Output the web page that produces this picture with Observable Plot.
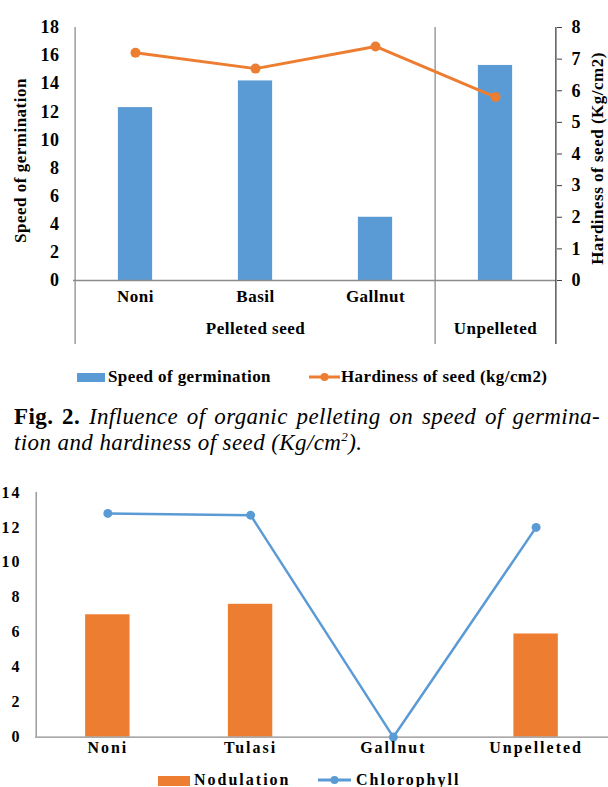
<!DOCTYPE html>
<html>
<head>
<meta charset="utf-8">
<script src="https://cdn.jsdelivr.net/npm/d3@7"></script>
<script src="https://cdn.jsdelivr.net/npm/@observablehq/plot@0.6"></script>
<style>
  html, body { margin: 0; padding: 0; background: #fff; }
  #page { position: relative; width: 608px; height: 787px; overflow: hidden; background: #fff; font-family: "Liberation Serif", "Times New Roman", serif; color: #000; }
  #top, #bottom { position: absolute; left: 0; }
  #top { top: 0; }
  #bottom { top: 480px; }
  .lg { position: absolute; font-weight: bold; line-height: 18px; white-space: nowrap; }
  .lg1 { font-size: 17px; letter-spacing: 0.4px; }
  .lg2 { font-size: 16px; letter-spacing: 2px; }
  .sw { position: absolute; }
  #caption { position: absolute; left: 14px; top: 404px; width: 586px; font-size: 23px; line-height: 26px; letter-spacing: 0.4px; }
  #caption .l1 { text-align: justify; text-align-last: justify; white-space: nowrap; }
  #caption i { font-style: italic; }
  #caption sup { font-size: 13px; line-height: 0; }
</style>
</head>
<body>
<div id="page">
  <div id="top"></div>
  <div class="sw" style="left:77px;top:373px;width:28px;height:9px;background:#5B9BD5"></div>
  <div class="lg lg1" style="left:108px;top:368px">Speed of germination</div>
  <svg class="sw" style="left:309px;top:372px" width="31" height="10"><line x1="0" y1="5" x2="31" y2="5" stroke="#ED7D31" stroke-width="3"/><circle cx="15.5" cy="5" r="4" fill="#ED7D31"/></svg>
  <div class="lg lg1" style="left:341px;top:368px">Hardiness of seed (kg/cm2)</div>
  <div id="caption">
    <div class="l1"><b>Fig. 2.</b> <i>Influence of organic pelleting on speed of germina-</i></div>
    <div><i>tion and hardiness of seed (Kg/cm<sup>2</sup>).</i></div>
  </div>
  <div id="bottom"></div>
  <div class="sw" style="left:158px;top:776px;width:32px;height:10px;background:#ED7D31"></div>
  <div class="lg lg2" style="left:194px;top:771px">Nodulation</div>
  <svg class="sw" style="left:318px;top:775px" width="33" height="10"><line x1="0" y1="5" x2="33" y2="5" stroke="#5B9BD5" stroke-width="3"/><circle cx="16.5" cy="5" r="4" fill="#5B9BD5"/></svg>
  <div class="lg lg2" style="left:356px;top:771px">Chlorophyll</div>
</div>
<script>
// ---------- Data: top chart (Fig. 2) ----------
const topCategories = ["Noni", "Basil", "Gallnut", "Unpelleted"];
const topSubLabels = ["Noni", "Basil", "Gallnut", ""];
const topGroupLabels = ["Pelleted seed", "Unpelleted"];
const topGroupMembers = [["Noni", "Basil", "Gallnut"], ["Unpelleted"]];
const speedOfGermination = [12.3, 14.2, 4.5, 15.3];
const hardinessOfSeed = [7.2, 6.7, 7.4, 5.8];
const leftTicks = [0, 2, 4, 6, 8, 10, 12, 14, 16, 18];
const rightTicks = [0, 1, 2, 3, 4, 5, 6, 7, 8];
const leftTitle = "Speed of germination";
const rightTitle = "Hardiness of seed (Kg/cm2)";

// ---------- Data: bottom chart ----------
const bottomCategories = ["Noni", "Tulasi", "Gallnut", "Unpelleted"];
const nodulation = [7.0, 7.6, 0, 5.9];
const chlorophyll = [12.8, 12.7, 0, 12.0];
const bottomTicks = [0, 2, 4, 6, 8, 10, 12, 14];

const BLUE = "#5B9BD5", ORANGE = "#ED7D31", AXIS = "#8c8c8c", DARK = "#404040";
const baseStyle = "font-family:'Liberation Serif','Times New Roman',serif;font-weight:bold;color:#000;background:transparent;overflow:visible;";

// ---------- Top chart ----------
{
  const W = 608, H = 350, mt = 27, mb = 70, ml = 73, mr = 52;
  const step = (W - ml - mr) / topCategories.length;
  const barW = 35;
  const inset = (step - barW) / 2;
  const k = 18 / 8; // right axis -> left axis units
  const rows = topCategories.map((c, i) => ({category: c, speed: speedOfGermination[i], hard: hardinessOfSeed[i] * k, sub: topSubLabels[i]}));
  const groups = topGroupLabels.map((g, i) => ({label: g, at: topGroupMembers[i][Math.floor(topGroupMembers[i].length / 2)]}));
  const chart = Plot.plot({
    width: W, height: H, marginTop: mt, marginBottom: mb, marginLeft: ml, marginRight: mr,
    style: baseStyle + "font-size:17px;letter-spacing:0.5px;",
    x: {type: "band", domain: topCategories, padding: 0, axis: null},
    y: {domain: [0, 18], axis: null},
    marks: [
      Plot.barY(rows, {x: "category", y: "speed", fill: BLUE, insetLeft: inset, insetRight: inset}),
      Plot.ruleY([0], {stroke: AXIS, strokeWidth: 1.3}),
      Plot.ruleX([topCategories[0], topCategories[3]], {x: d => d, dx: -step / 2, stroke: AXIS, strokeWidth: 1.3, insetBottom: -64}),
      Plot.ruleX([topCategories[3]], {x: d => d, dx: step / 2, stroke: DARK, strokeWidth: 1.3, insetBottom: -64}),
      Plot.axisY({anchor: "left", ticks: leftTicks, tickSize: 0, tickPadding: 14, label: null, fontSize: 18}),
      Plot.axisY({anchor: "right", ticks: rightTicks.map(v => v * k), tickFormat: v => String(Math.round(v / k)), tickSize: 5, tickPadding: 10, label: null, stroke: DARK, fontSize: 18}),
      Plot.line(rows, {x: "category", y: "hard", stroke: ORANGE, strokeWidth: 3}),
      Plot.dot(rows, {x: "category", y: "hard", r: 5, fill: ORANGE}),
      Plot.text(rows, {x: "category", text: "sub", frameAnchor: "bottom", dy: 21}),
      Plot.text(groups, {x: "at", text: "label", frameAnchor: "bottom", dy: 53}),
      Plot.text([leftTitle], {frameAnchor: "left", textAnchor: "middle", rotate: -90, dx: -53, dy: 6.5, letterSpacing: 0.6}),
      Plot.text([rightTitle], {frameAnchor: "right", textAnchor: "middle", rotate: -90, dx: 41, dy: 4.5, letterSpacing: 0.6})
    ]
  });
  document.getElementById("top").append(chart);
}

// ---------- Bottom chart ----------
{
  const W = 609, H = 307, mt = 12, mb = 50, ml = 35, mr = 0;
  const step = (W - ml - mr) / bottomCategories.length;
  const barW = 45;
  const inset = (step - barW) / 2;
  const rows = bottomCategories.map((c, i) => ({category: c, nod: nodulation[i], chl: chlorophyll[i]}));
  const chart = Plot.plot({
    width: W, height: H, marginTop: mt, marginBottom: mb, marginLeft: ml, marginRight: mr,
    style: baseStyle + "font-size:16px;letter-spacing:2px;",
    x: {type: "band", domain: bottomCategories, padding: 0, axis: null},
    y: {domain: [0, 14], axis: null},
    marks: [
      Plot.barY(rows.filter(d => d.nod > 0), {x: "category", y: "nod", fill: ORANGE, insetLeft: inset, insetRight: inset}),
      Plot.ruleY([0], {stroke: AXIS, strokeWidth: 1.3}),
      Plot.ruleX([bottomCategories[0]], {x: d => d, dx: -step / 2, stroke: AXIS, strokeWidth: 1.3}),
      Plot.axisY({anchor: "left", ticks: bottomTicks, tickSize: 0, tickPadding: 14, label: null, fontSize: 16}),
      Plot.line(rows, {x: "category", y: "chl", stroke: BLUE, strokeWidth: 2.5}),
      Plot.dot(rows, {x: "category", y: "chl", r: 4.5, fill: BLUE}),
      Plot.text(rows, {x: "category", text: "category", frameAnchor: "bottom", dy: 16})
    ]
  });
  document.getElementById("bottom").append(chart);
}
</script>
</body>
</html>
